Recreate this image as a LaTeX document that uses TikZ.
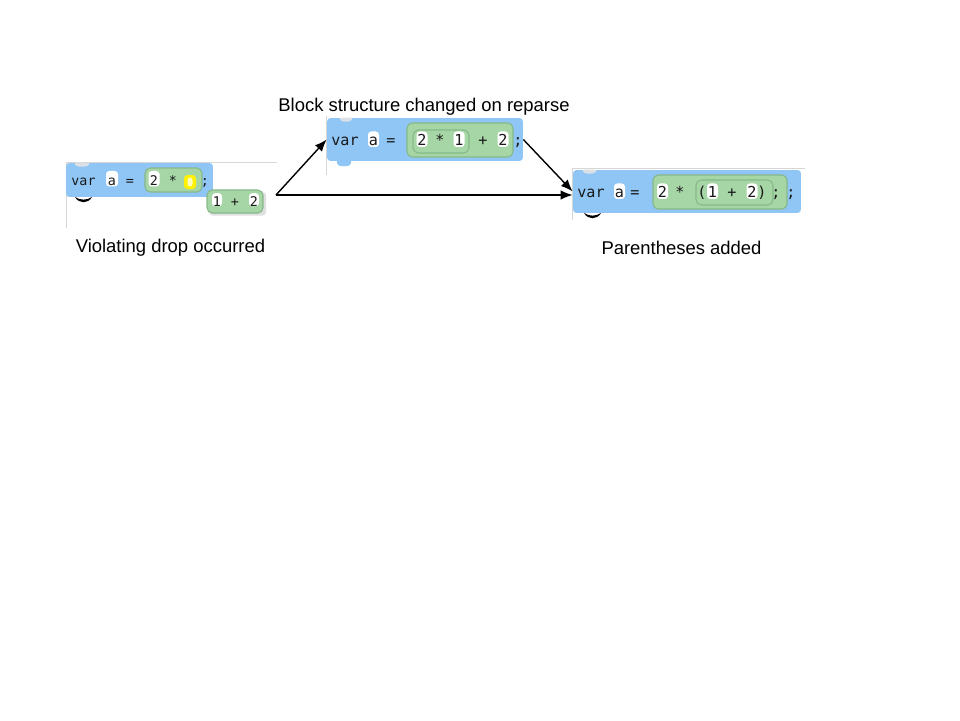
\documentclass[tikz,border=0pt]{standalone}
\usepackage{fontspec}
\setmainfont{Liberation Sans}
\newfontfamily\codefont{DejaVu Sans Mono}
\usepackage{xcolor}
\usepackage{tikz}
\usetikzlibrary{arrows.meta}

\definecolor{blockblue}{RGB}{143,198,245}
\definecolor{exprgreen}{RGB}{166,214,166}
\definecolor{exprline}{RGB}{134,184,136}
\definecolor{frameline}{RGB}{214,214,214}
\definecolor{notchgrey}{RGB}{218,224,230}
\definecolor{codetext}{RGB}{25,25,25}

\tikzset{
  blk/.style={fill=blockblue, rounded corners=2pt, inner sep=0pt},
  expr/.style={fill=exprgreen, draw=exprline, line width=0.6pt, rounded corners=3pt},
  slot/.style={fill=white, rounded corners=1.8pt, inner sep=0pt, anchor=base,
    minimum width=0.22cm, minimum height=0.31cm, text height=1.35ex, text depth=0pt, text=codetext},
  tok/.style={inner sep=0pt, anchor=base, text=codetext},
  codesm/.style={font=\codefont\fontsize{7.6}{9}\selectfont},
  codebig/.style={font=\codefont\fontsize{8.6}{10}\selectfont},
  caption/.style={font=\fontsize{10.5}{12}\selectfont},
  arr/.style={-{Latex[length=2.4mm,width=1.9mm]}, line width=0.8pt},
  framel/.style={draw=frameline, line width=0.5pt},
}

\begin{document}
\begin{tikzpicture}[x=0.02cm,y=-0.02cm]
  \useasboundingbox (0,0) rectangle (960,720);

  % block where the drop happened
  \draw[framel] (277,162) -- (66,162) -- (66,228);
  \node[blk, minimum width=2.94cm, minimum height=0.68cm] (orig) at (139.5,180) {};
  \fill[notchgrey, rounded corners=1.5pt] (74,162.5) -- (76,166.5) -- (88,166.5) -- (90,162.5) -- cycle;
  \fill (75,197) .. controls (79,204) and (88,204) .. (92,197) .. controls (87,200.5) and (80,200.5) .. cycle;
  \draw[expr] (145,168) rectangle (202,192);
  \begin{scope}[codesm]
    \node[tok] (var1) at (83.5,185) {var};
    \node[slot, minimum width=0.24cm] (a1) at (112,185) {a};
    \node[tok] (eq1) at (130,185) {=};
    \node[slot] (two1) at (154,185) {2};
    \node[tok] (op1) at (173,185) {*};
    \fill[yellow, rounded corners=2pt] (184,175) rectangle (196,189);
    \fill[yellow!25, rounded corners=1.5pt] (187.5,177.5) rectangle (192.5,186.5);
    \node[tok] (semi1) at (205,185) {;};
  \end{scope}

  % dropped block
  \fill[black!25, opacity=0.5, rounded corners=2pt] (209,192) rectangle (266,215.5);
  \node[expr, minimum width=1.12cm, minimum height=0.46cm, inner sep=0pt] (drop) at (235,201.5) {};
  \begin{scope}[codesm]
    \node[slot, minimum width=0.2cm, minimum height=0.26cm] (one0) at (217,206) {1};
    \node[tok] (plus0) at (235,206) {+};
    \node[slot, minimum width=0.2cm, minimum height=0.26cm] (two0) at (254,206) {2};
  \end{scope}

  % reparsed block
  \draw[framel] (326,116) -- (326,175);
  \node[blk, minimum width=3.92cm, minimum height=0.86cm] (reparse) at (425,139.5) {};
  \fill[notchgrey, rounded corners=1.5pt] (339,117.5) -- (341,121.5) -- (351,121.5) -- (353,117.5) -- cycle;
  \fill[blockblue, rounded corners=1.5pt] (336,160) -- (338,166) -- (350,166) -- (352,160) -- cycle;
  \draw[expr] (407,123) rectangle (513,157);
  \draw[expr] (413,130) rectangle (469,153);
  \begin{scope}[codebig]
    \node[tok] (var2) at (345,145.5) {var};
    \node[slot] (a2) at (373.5,145.5) {a};
    \node[tok] (eq2) at (391,145.5) {=};
    \node[slot] (two2) at (422,145.5) {2};
    \node[tok] (op2) at (440,145.5) {*};
    \node[slot] (one2) at (459,145.5) {1};
    \node[tok] (plus2) at (483,145.5) {+};
    \node[slot] (twob2) at (503,145.5) {2};
    \node[tok] (semi2) at (518,145.5) {;};
  \end{scope}

  % block with parentheses
  \draw[framel] (805,168) -- (572,168) -- (572,220);
  \node[blk, minimum width=4.56cm, minimum height=0.86cm] (result) at (687,191.5) {};
  \fill[notchgrey, rounded corners=1.5pt] (582,169.5) -- (584,173.5) -- (595,173.5) -- (597,169.5) -- cycle;
  \fill (584,213) .. controls (588,220) and (597,220) .. (601,213) .. controls (596,216.5) and (589,216.5) .. cycle;
  \draw[expr] (653,175) rectangle (787,209);
  \draw[expr] (696,180) rectangle (773,205);
  \begin{scope}[codebig]
    \node[tok] (var3) at (591,197.5) {var};
    \node[slot] (a3) at (619.5,197.5) {a};
    \node[tok] (eq3) at (635,197.5) {=};
    \node[slot] (two3) at (662.5,197.5) {2};
    \node[tok] (op3) at (680,197.5) {*};
    \node[tok] (lp3) at (702,197.5) {(};
    \node[slot] (one3) at (712.5,197.5) {1};
    \node[tok] (plus3) at (732,197.5) {+};
    \node[slot] (twob3) at (752,197.5) {2};
    \node[tok] (rp3) at (762,197.5) {)};
    \node[tok] (semi3) at (776,197.5) {;};
    \node[tok] (semib3) at (791,197.5) {;};
  \end{scope}

  % arrows
  \coordinate (src) at (276,195);
  \draw[arr] (src) -- (reparse.west);
  \draw[arr] (reparse.east) -- (result.west);
  \draw[arr] (src) -- (src -| result.west);

  % captions
  \node[caption] (capdrop) at (170.5,248) {Violating drop occurred};
  \node[caption] (capreparse) at (424,107) {Block structure changed on reparse};
  \node[caption] (capresult) at (681.5,248) {Parentheses added};
\end{tikzpicture}
\end{document}
